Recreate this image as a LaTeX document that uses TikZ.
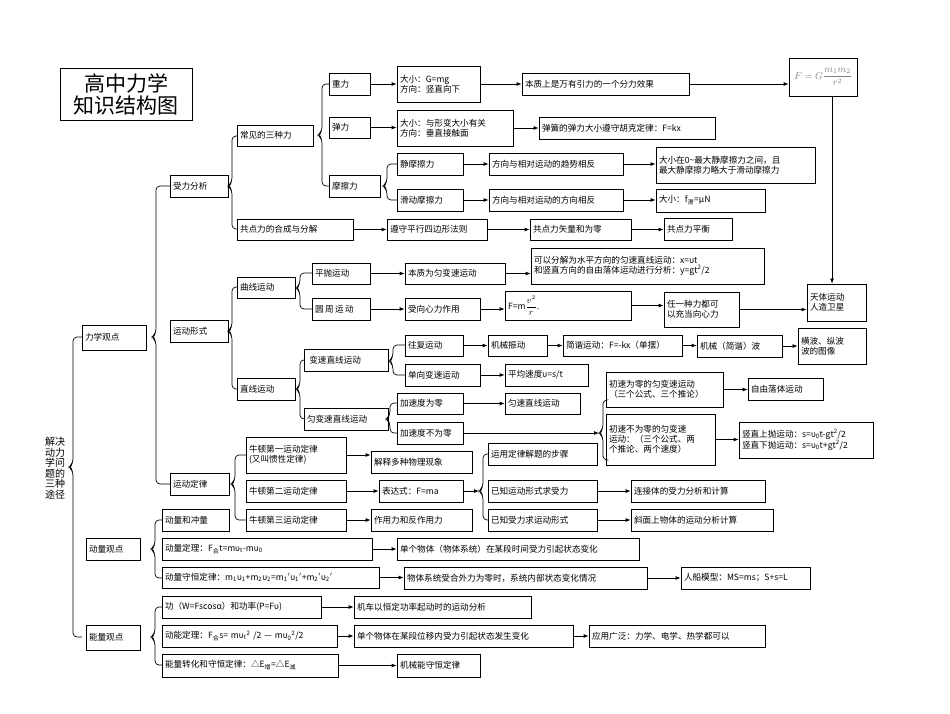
\documentclass[tikz,border=0pt]{standalone}
\usepackage{fontspec}
\setmainfont{Noto Sans CJK SC}
\usetikzlibrary{arrows.meta}
\newcommand\bx[6]{\pgfmathsetmacro\tw{#4-#2-6}\pgfmathsetmacro\th{#5-#3}%
 \node[bx,text width=\tw pt,minimum height=\th pt] (#1) at ({(#2+#4)/2},{(#3+#5)/2}) {#6};}
\newcommand\ar[2]{\draw[arr] (#1.east) -- (#1.east -| #2.west);}
\newcommand\brc[5]{\draw[line width=0.7pt,rounded corners=4] (#5,#2) -- (#1,#2) -- (#1,#4-4) -- (#1-4,#4) -- (#1,#4+4) -- (#1,#3) -- (#5,#3);}
\newcommand\pr{$^{\prime}$}
\begin{document}
\begin{tikzpicture}[x=1pt,y=-1pt,
 bx/.style={draw,line width=0.8pt,align=left,inner xsep=3pt,inner ysep=1pt,font=\fontsize{8.6}{10}\selectfont},
 arr/.style={line width=0.8pt,-{Latex[length=5pt,width=4pt]}}]
\useasboundingbox (0,0) rectangle (950,713);
% title
\node[draw,line width=0.8pt,minimum width=132pt,minimum height=52pt,align=center,font=\fontsize{21}{22}\selectfont] (title) at (126,94) {高中力学\\知识结构图};
\node[align=center,font=\fontsize{10}{10.5}\selectfont,inner sep=0] (root) at (55,468) {解决\\动力\\学问\\题的\\三种\\途径};
% level 1
\bx{lx}{82}{325}{146}{350}{力学观点}
\bx{dl}{86}{538}{140}{560}{动量观点}
\bx{nl}{86}{625}{140}{650}{能量观点}
\brc{73}{337}{637}{467}{82}
% 力学观点
\bx{sl}{170}{175}{228}{197}{受力分析}
\bx{yx}{170}{320}{228}{342}{运动形式}
\bx{yd}{170}{473}{229}{495}{运动定律}
\brc{156}{186}{484}{337}{170}
% 受力分析
\bx{cj}{237}{125}{313}{146}{常见的三种力}
\bx{gd}{237}{219}{353}{240}{共点力的合成与分解}
\brc{232}{136}{229}{186}{237}
\bx{zl}{329}{73}{370}{95}{重力}
\bx{tl}{329}{117}{370}{138}{弹力}
\bx{mc}{329}{175}{380}{197}{摩擦力}
\brc{322}{84}{186}{135}{329}
\bx{gb}{397}{66}{480}{102}{大小：G=mg\\方向：竖直向下}
\bx{tb}{397}{110}{513}{146}{大小：与形变大小有关\\方向：垂直接触面}
\bx{bz}{522}{73}{689}{95}{本质上是万有引力的一个分力效果}
\bx{hk}{539}{117}{715}{139}{弹簧的弹力大小遵守胡克定律：F=kx}
\node[draw,line width=0.8pt,minimum width=68pt,minimum height=38pt,text=gray,font=\fontsize{10}{11}\selectfont] (fg) at (823,77) {$\displaystyle F=G\frac{m_1m_2}{r^2}$};
\bx{jm}{397}{153}{463}{175}{静摩擦力}
\bx{hd}{397}{189}{463}{211}{滑动摩擦力}
\brc{387}{164}{200}{186}{397}
\bx{qs}{489}{153}{623}{175}{方向与相对运动的趋势相反}
\bx{fx}{489}{189}{623}{211}{方向与相对运动的方向相反}
\bx{dx}{656}{147}{815}{183}{大小在0\textasciitilde 最大静摩擦力之间，且\\最大静摩擦力略大于滑动摩擦力}
\bx{fh}{656}{189}{765}{212}{大小：f\textsubscript{滑}=μN}
\bx{px}{387}{219}{487}{240}{遵守平行四边形法则}
\bx{sh}{530}{219}{631}{240}{共点力矢量和为零}
\bx{ph}{664}{218}{732}{240}{共点力平衡}
\ar{zl}{gb}\ar{gb}{bz}\ar{bz}{fg}
\ar{tl}{tb}\ar{tb}{hk}
\ar{jm}{qs}\ar{qs}{dx}\ar{hd}{fx}\ar{fx}{fh}
\ar{gd}{px}\ar{px}{sh}\ar{sh}{ph}
% 运动形式
\bx{qx}{237}{277}{295}{298}{曲线运动}
\bx{zx}{237}{378}{295}{400}{直线运动}
\brc{232}{287}{389}{331}{237}
\bx{pp}{312}{263}{370}{284}{平抛运动}
\bx{yz}{312}{298}{370}{320}{圆\,周\,运\,动}
\brc{300}{273}{309}{288}{312}
\bx{bzy}{405}{263}{505}{284}{本质为匀变速运动}
\bx{xx}{405}{298}{480}{320}{受向心力作用}
\bx{kf}{531}{248}{764}{284}{可以分解为水平方向的匀速直线运动：x=υt\\和竖直方向的自由落体运动进行分析：y=gt\textsuperscript{2}/2}
\bx{fm}{505}{291}{631}{320}{F=m$\displaystyle\frac{v^2}{r}$.}
\bx{ry}{664}{292}{739}{327}{任一种力都可\\以充当向心力}
\bx{tt}{807}{284}{866}{321}{天体运动\\人造卫星}
\ar{pp}{bzy}\ar{bzy}{kf}\ar{yz}{xx}\ar{xx}{fm}\ar{fm}{ry}\ar{ry}{tt}
\draw[arr] ([xshift=9pt]fg.south) -- ([xshift=9pt]fg.south |- tt.north);
\bx{bs}{304}{349}{388}{371}{\;变速直线运动}
\bx{yb}{304}{408}{388}{430}{匀变速直线运动}
\brc{300}{360}{419}{389}{304}
\bx{wf}{405}{335}{463}{356}{往复运动}
\bx{dbx}{405}{364}{480}{386}{单向变速运动}
\brc{393}{345}{375}{361}{405}
\bx{jz}{488}{335}{547}{356}{机械振动}
\bx{jx}{563}{335}{682}{356}{简谐运动：F=-kx（单摆）}
\bx{jb}{697}{335}{782}{357}{机械（简谐）波}
\bx{hb}{798}{328}{866}{364}{横波、纵波\\波的图像}
\bx{pj}{505}{364}{588}{386}{平均速度υ=s/t}
\ar{wf}{jz}\ar{jz}{jx}\ar{jx}{jb}\ar{jb}{hb}\ar{dbx}{pj}
\bx{jl}{397}{393}{463}{414}{加速度为零}
\bx{jbl}{397}{422}{463}{444}{加速度不为零}
\brc{390}{403}{433}{419}{397}
\bx{ys}{505}{393}{580}{414}{匀速直线运动}
\ar{jl}{ys}
\bx{cl}{606}{372}{723}{407}{初速为零的匀变速运动\\（三个公式、三个推论）}
\bx{cb}{606}{414}{715}{465}{初速不为零的匀变速\\运动：（三个公式、两\\个推论、两个速度）}
\brc{603}{400}{460}{433}{606}
\coordinate (n1) at (599,433);
\draw[arr] (jbl.east) -- (n1);
\bx{zy}{748}{378}{823}{400}{自由落体运动}
\bx{sz}{739}{422}{873}{458}{竖直上抛运动：s=υ\textsubscript{0}t-gt\textsuperscript{2}/2\\竖直下抛运动：s=υ\textsubscript{0}t+gt\textsuperscript{2}/2}
\ar{cl}{zy}\ar{cb}{sz}
% 运动定律
\bx{n1b}{246}{437}{346}{473}{牛顿第一运动定律\\(又叫惯性定律)}
\bx{n2b}{246}{480}{346}{502}{牛顿第二运动定律}
\bx{n3b}{246}{509}{346}{531}{牛顿第三运动定律}
\brc{235}{455}{520}{484}{246}
\bx{js}{371}{451}{472}{473}{解释多种物理现象}
\bx{bd}{379}{480}{463}{502}{表达式：F=ma}
\bx{zyl}{371}{509}{472}{531}{作用力和反作用力}
\ar{n1b}{js}\ar{n2b}{bd}\ar{n3b}{zyl}
\bx{yy}{488}{443}{597}{465}{运用定律解题的步骤}
\bx{yzs}{488}{480}{597}{502}{已知运动形式求受力}
\bx{yzy}{488}{509}{597}{531}{已知受力求运动形式}
\brc{483}{454}{520}{491}{488}
\coordinate (n2) at (479,491);
\draw[arr] (bd.east) -- (n2);
\bx{lj}{631}{480}{765}{502}{连接体的受力分析和计算}
\bx{xm}{631}{509}{773}{531}{斜面上物体的运动分析计算}
\ar{yzs}{lj}\ar{yzy}{xm}
% 动量观点
\bx{dc}{162}{509}{229}{531}{动量和冲量}
\bx{dd}{162}{538}{372}{560}{动量定理：F\textsubscript{合}t=mυ\textsubscript{t}-mυ\textsubscript{0}}
\bx{dh}{162}{567}{379}{588}{动量守恒定律：m\textsubscript{1}υ\textsubscript{1}+m\textsubscript{2}υ\textsubscript{2}=m\textsubscript{1}\pr υ\textsubscript{1}\pr+m\textsubscript{2}\pr υ\textsubscript{2}\pr}
\brc{155}{520}{578}{549}{162}
\bx{dg}{397}{538}{639}{560}{单个物体（物体系统）在某段时间受力引起状态变化}
\bx{wt}{404}{567}{647}{589}{物体系统受合外力为零时，系统内部状态变化情况}
\bx{rc}{681}{567}{810}{589}{人船模型：MS=ms；S+s=L}
\ar{dd}{dg}\ar{dh}{wt}\ar{wt}{rc}
% 能量观点
\bx{gl}{162}{596}{321}{618}{功（W=Fscosα）和功率(P=Fυ)}
\bx{dn}{162}{625}{337}{647}{动能定理：F\textsubscript{合}s= mυ\textsubscript{t}\textsuperscript{2} /2 — mυ\textsubscript{0}\textsuperscript{2}/2}
\bx{nz}{162}{654}{338}{677}{能量转化和守恒定律：△E\textsubscript{增}=△E\textsubscript{减}}
\brc{155}{607}{665}{637}{162}
\bx{jc}{354}{596}{531}{618}{机车以恒定功率起动时的运动分析}
\bx{dw}{354}{625}{573}{647}{单个物体在某段位移内受力引起状态发生变化}
\bx{yg}{589}{625}{765}{647}{应用广泛：力学、电学、热学都可以}
\bx{jn}{397}{654}{480}{677}{机械能守恒定律}
\ar{gl}{jc}\ar{dn}{dw}\ar{dw}{yg}\ar{nz}{jn}
\end{tikzpicture}
\end{document}
